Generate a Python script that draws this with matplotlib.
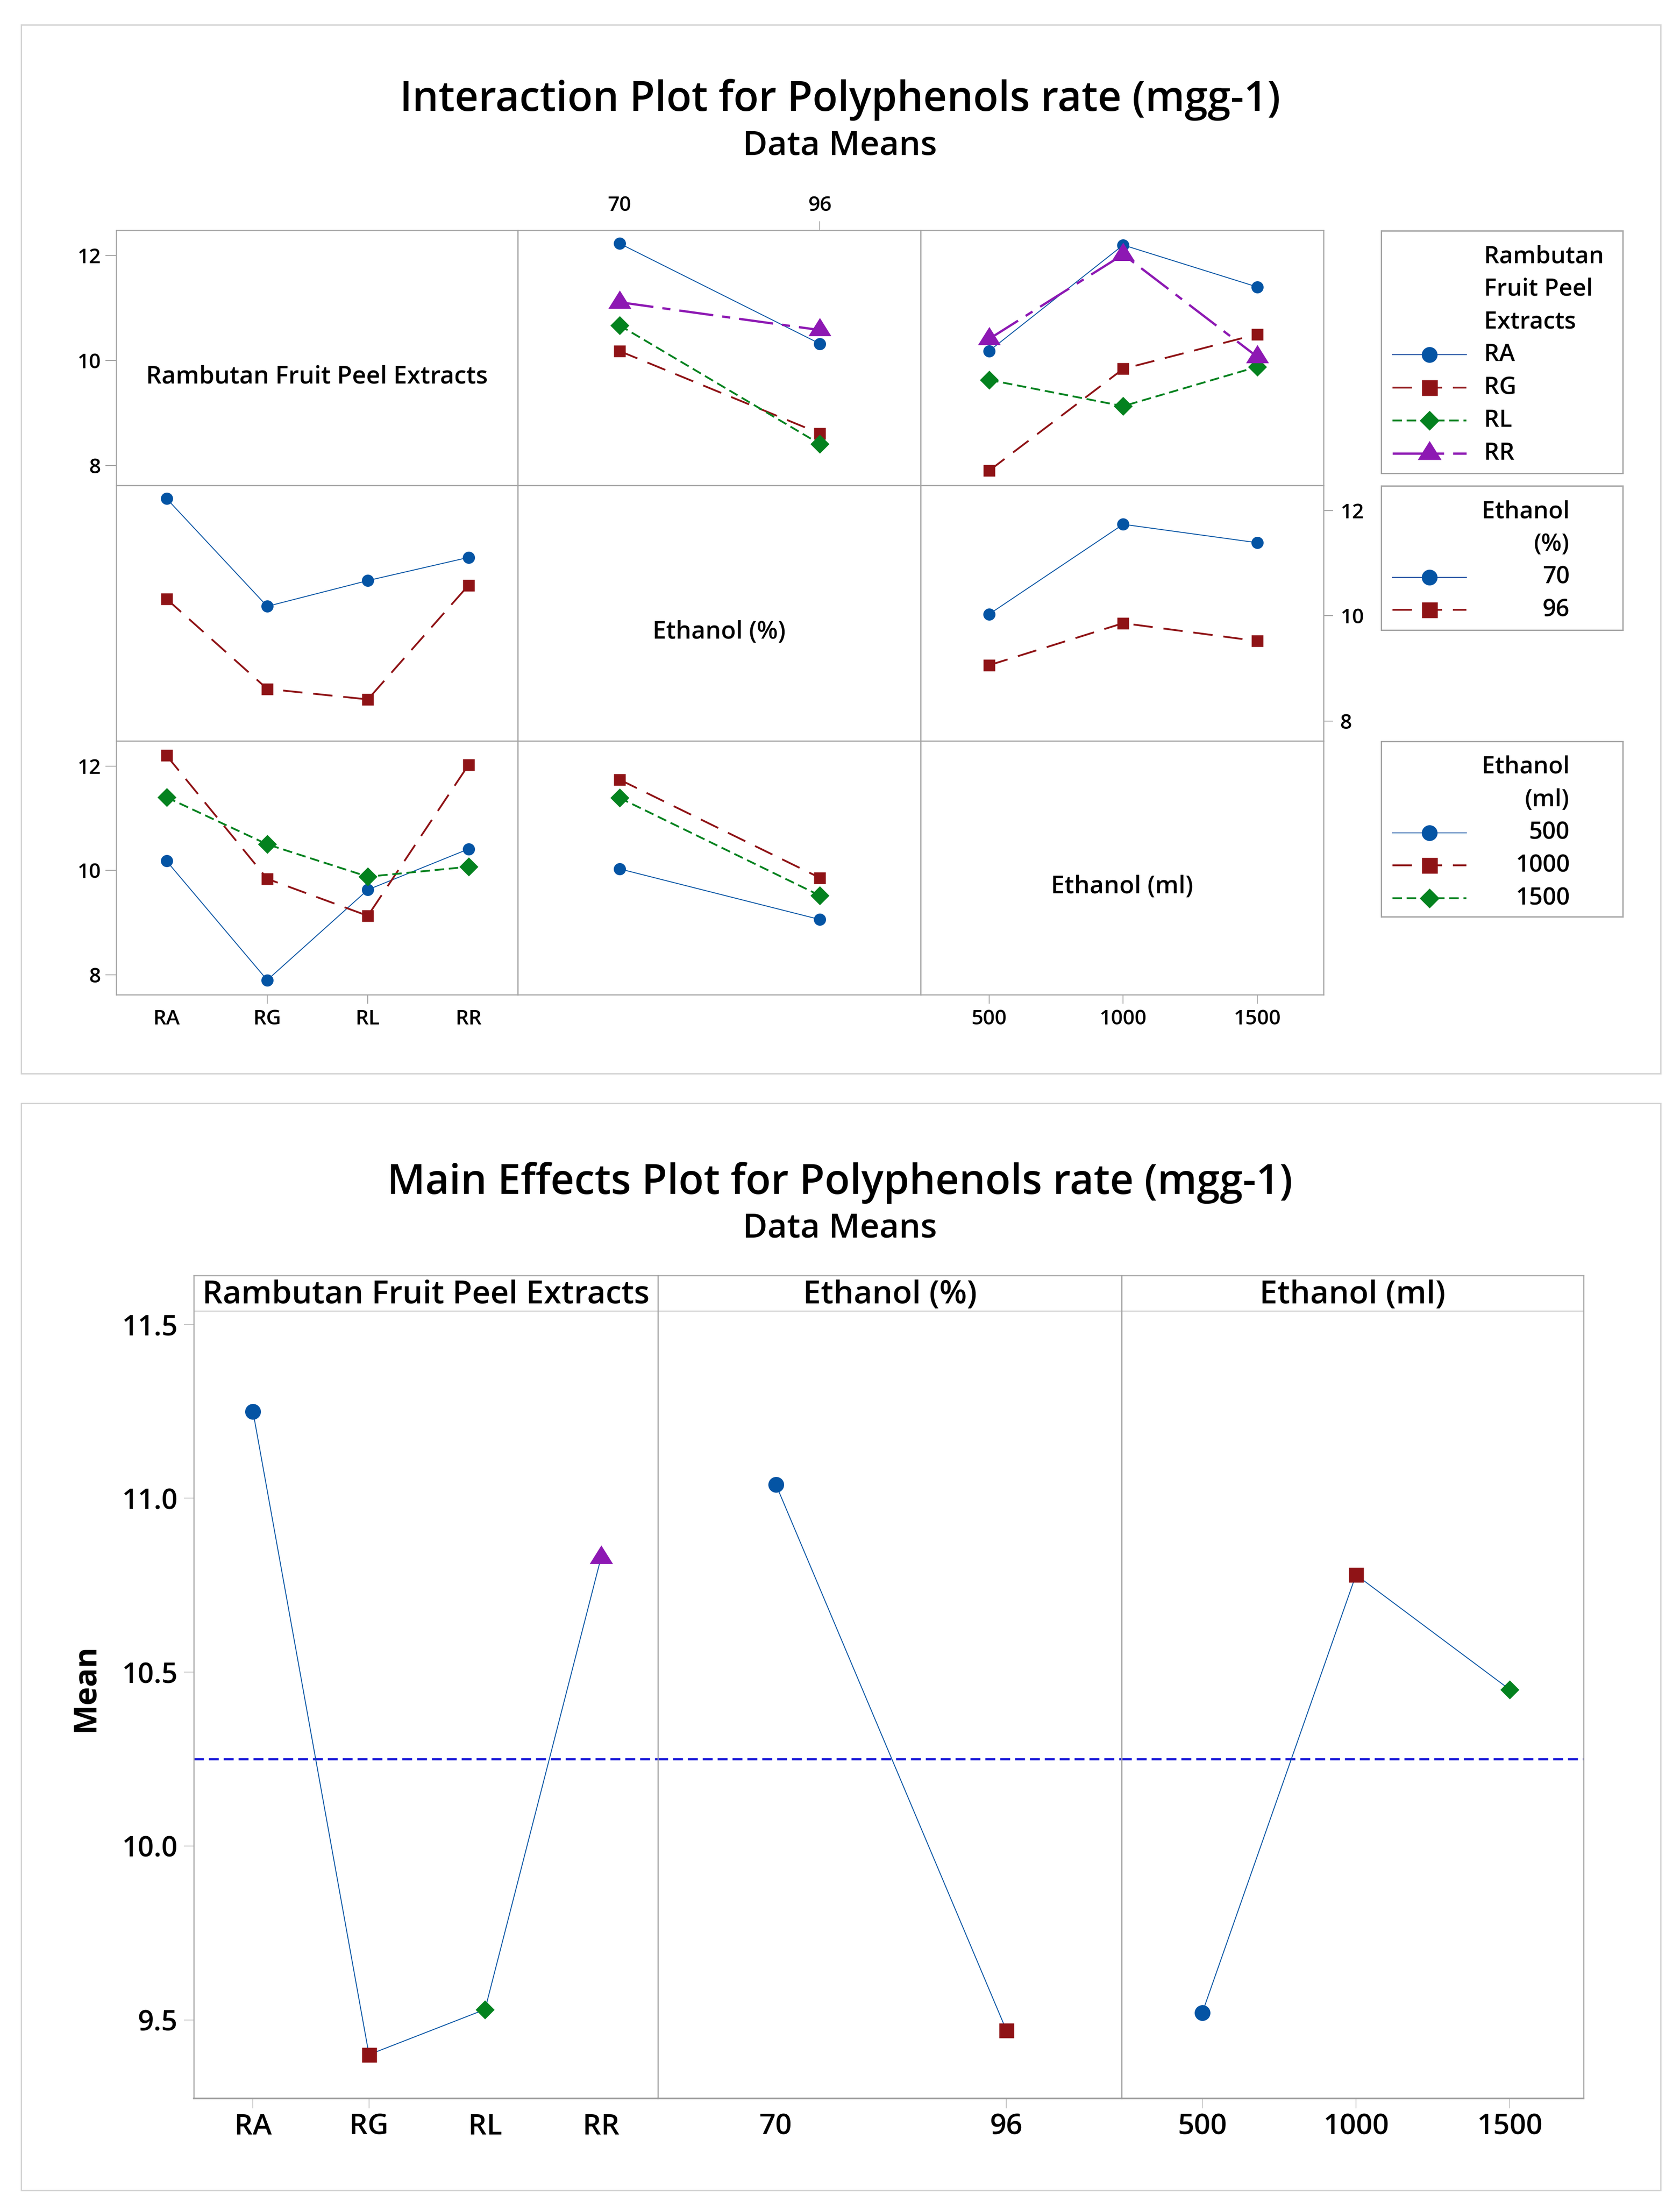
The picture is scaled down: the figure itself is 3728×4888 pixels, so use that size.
import matplotlib
matplotlib.use('Agg')
import matplotlib.pyplot as plt
from matplotlib.patches import Rectangle

plt.rcParams['font.family'] = ['Open Sans', 'DejaVu Sans']
plt.rcParams['font.weight'] = 'semibold'
plt.rcParams['lines.scale_dashes'] = False

# ---- data ----
extracts = ['RA', 'RG', 'RL', 'RR']
ethanol_pct = [70, 96]
ethanol_ml = [500, 1000, 1500]
factor_names = ['Rambutan Fruit Peel Extracts', 'Ethanol (%)', 'Ethanol (ml)']

# interaction means
pct_by_extract = [[12.23, 10.32], [10.18, 8.61], [10.67, 8.41], [11.11, 10.58]]
ml_by_extract = [[10.18, 12.20, 11.40], [7.90, 9.84, 10.50],
                 [9.63, 9.13, 9.88], [10.41, 12.02, 10.07]]
ml_by_pct = [[10.03, 11.74, 11.39], [9.06, 9.86, 9.52]]

# main effects means
main_extract = [11.25, 9.40, 9.53, 10.83]
main_pct = [11.04, 9.47]
main_ml = [9.52, 10.78, 10.45]
grand_mean = 10.25

# ---- figure geometry (pixels of the 3728x4888 picture) ----
W, H = 3728, 4888
DPI = 100


def px(v):
    return v * 72 / DPI


fig = plt.figure(figsize=(W / DPI, H / DPI), dpi=DPI)
fig.patch.set_facecolor('white')

ov = fig.add_axes([0, 0, 1, 1])
ov.set_xlim(0, W)
ov.set_ylim(H, 0)
ov.axis('off')


def add_box(l, t, r, b):
    return fig.add_axes([l / W, 1 - b / H, (r - l) / W, (b - t) / H])


def hide_ticks(axis, idx, line='tick1line'):
    ticks = axis.get_major_ticks()
    for i in idx:
        getattr(ticks[i], line).set_visible(False)


BLUE = '#0454a4'
RED = '#8f1316'
GREEN = '#04821f'
PURPLE = '#8d18b3'
MEANBLUE = '#1414d8'
GRAY = '#a5a5a5'
TRI = [(-0.94, -0.5), (0.94, -0.5), (0.0, 1.0)]

# level styles: color, linestyle, linewidth, marker, size in interaction / legend / main
styles = [
    dict(color=BLUE, ls='-', lw=px(2), marker='o', ms_i=px(27), ms_l=px(35), ms_m=px(35)),
    dict(color=RED, ls=(0, (px(43), px(24))), lw=px(4), marker='s', ms_i=px(26), ms_l=px(35), ms_m=px(33)),
    dict(color=GREEN, ls=(0, (px(21), px(10.5))), lw=px(4), marker='D', ms_i=px(30), ms_l=px(31), ms_m=px(30)),
    dict(color=PURPLE, ls=(0, (px(76), px(20), px(18), px(20))), lw=px(5), marker=TRI,
         ms_i=px(54), ms_l=px(56), ms_m=px(55)),
]

# ---- outer frames and titles ----
for (t, b) in [(55, 2382), (2448, 4860)]:
    ov.add_patch(Rectangle((47, t), 3685 - 47, b - t, fill=False, ec='#d4d4d4', lw=px(3)))

ov.text(W / 2, 246, 'Interaction Plot for Polyphenols rate (mgg-1)', fontsize=66,
        ha='center', va='baseline')
ov.text(W / 2, 343, 'Data Means', fontsize=54, ha='center', va='baseline')
ov.text(W / 2, 2649, 'Main Effects Plot for Polyphenols rate (mgg-1)', fontsize=66,
        ha='center', va='baseline')
ov.text(W / 2, 2746, 'Data Means', fontsize=54, ha='center', va='baseline')

# ---- interaction plot grid ----
cols_x = [258, 1149, 2043, 2937]
rows_y = [511, 1077, 1644, 2207]
xlims = [(0.5, 4.49), (56.8, 109.1), (245, 1747)]
ylim = (7.62, 12.48)
xpos = [list(range(1, len(extracts) + 1)), ethanol_pct, ethanol_ml]
xlabels = [extracts, [str(v) for v in ethanol_pct], [str(v) for v in ethanol_ml]]

series = {
    (0, 1): pct_by_extract,
    (0, 2): ml_by_extract,
    (1, 0): [[row[j] for row in pct_by_extract] for j in range(len(ethanol_pct))],
    (1, 2): ml_by_pct,
    (2, 0): [[row[k] for row in ml_by_extract] for k in range(len(ethanol_ml))],
    (2, 1): [[row[k] for row in ml_by_pct] for k in range(len(ethanol_ml))],
}

tick_kw = dict(width=px(2), color=GRAY, labelsize=33, labelcolor='black')
axs = {}
for r in range(3):
    for c in range(3):
        ax = add_box(cols_x[c], rows_y[r], cols_x[c + 1], rows_y[r + 1])
        ax.set_xlim(xlims[c])
        ax.set_ylim(ylim)
        ax.set_xticks([])
        ax.set_yticks([])
        for s in ax.spines.values():
            s.set_color(GRAY)
            s.set_linewidth(px(2.5))
        axs[(r, c)] = ax
        if r == c:
            ax.text(0.5, 0.40, factor_names[r], transform=ax.transAxes, fontsize=39,
                    ha='center', va='baseline')
            continue
        for i, ys in enumerate(series[(r, c)]):
            st = styles[i]
            ax.plot(xpos[c], ys, color=st['color'], ls=st['ls'], lw=st['lw'],
                    marker=st['marker'], ms=st['ms_i'], mec='none', mfc=st['color'])

# ticks
ax = axs[(0, 0)]
ax.set_yticks([8, 10, 12])
ax.tick_params(axis='y', length=px(24), pad=px(10), **tick_kw)
ax = axs[(2, 0)]
ax.set_yticks([8, 10, 12])
ax.tick_params(axis='y', length=px(24), pad=px(10), **tick_kw)
ax.set_xticks(xpos[0], xlabels[0])
ax.tick_params(axis='x', length=px(20), pad=px(12), **tick_kw)
hide_ticks(ax.xaxis, [0, 3])
ax = axs[(0, 1)]
ax.xaxis.set_ticks_position('top')
ax.set_xticks(xpos[1], xlabels[1])
ax.tick_params(axis='x', length=px(20), pad=px(12), **tick_kw)
hide_ticks(ax.xaxis, [0], 'tick2line')
ax = axs[(1, 2)]
ax.yaxis.set_ticks_position('right')
ax.set_yticks([8, 10, 12])
ax.tick_params(axis='y', length=px(21), pad=px(16), **tick_kw)
ax = axs[(2, 2)]
ax.set_xticks(xpos[2], xlabels[2])
ax.tick_params(axis='x', length=px(20), pad=px(12), **tick_kw)

# ---- legends ----
LEFT, RIGHT = 3065, 3601
TEXT_L, TEXT_R = 3293, 3483
STEP = 72.8


def draw_legend(top, bottom, title_lines, labels, right_align):
    ov.add_patch(Rectangle((LEFT, top), RIGHT - LEFT, bottom - top, fill=False,
                           ec=GRAY, lw=px(3)))
    rows = title_lines + labels
    for n, txt in enumerate(rows):
        base = top + 71 + n * STEP
        if right_align:
            ov.text(TEXT_R, base, txt, fontsize=38, ha='right', va='baseline')
        else:
            ov.text(TEXT_L, base, txt, fontsize=38, ha='left', va='baseline')
    for k in range(len(labels)):
        yy = top + 71 + (len(title_lines) + k) * STEP - 14
        st = styles[k]
        ov.plot([3090, 3254], [yy, yy], color=st['color'], ls=st['ls'], lw=st['lw'])
        ov.plot([3172], [yy], ls='none', marker=st['marker'], ms=st['ms_l'],
                mec='none', mfc=st['color'])


draw_legend(512, 1050, ['Rambutan', 'Fruit Peel', 'Extracts'], extracts, False)
draw_legend(1078, 1398, ['Ethanol', '(%)'], [str(v) for v in ethanol_pct], True)
draw_legend(1645, 2034, ['Ethanol', '(ml)'], [str(v) for v in ethanol_ml], True)

# ---- main effects plot ----
me_x = [430, 1460, 2489, 3514]
me_top, me_bottom = 2830, 4656
me_xlims = [(0.49, 4.49), (56.7, 109.0), (238, 1740)]
me_ylim = (9.274, 11.641)
strip_y = 11.539
main_vals = [main_extract, main_pct, main_ml]
me_hidden = [[2, 3], [0], []]

for p in range(3):
    ax = add_box(me_x[p], me_top, me_x[p + 1], me_bottom)
    ax.set_xlim(me_xlims[p])
    ax.set_ylim(me_ylim)
    for s in ax.spines.values():
        s.set_color(GRAY)
        s.set_linewidth(px(2.5))
    ax.spines['bottom'].set_linewidth(px(3.5))
    ax.spines['bottom'].set_color('#9a9a9a')
    ax.axhline(grand_mean, color=MEANBLUE, lw=px(4.7), ls=(0, (px(22), px(11))), zorder=1)
    ax.axhline(strip_y, color='#b4b4b4', lw=px(2), zorder=1)
    ax.plot(xpos[p], main_vals[p], color=BLUE, lw=px(2), zorder=2)
    for i, (xv, yv) in enumerate(zip(xpos[p], main_vals[p])):
        st = styles[i]
        ax.plot([xv], [yv], ls='none', marker=st['marker'], ms=st['ms_m'],
                mec='none', mfc=st['color'], zorder=3)
    ax.text(0.5, 0.9663, factor_names[p], transform=ax.transAxes, fontsize=51,
            ha='center', va='baseline')
    ax.set_xticks(xpos[p], xlabels[p])
    ax.tick_params(axis='x', length=px(22), pad=px(10), width=px(1.5), color='#b4b4b4',
                   labelsize=46)
    hide_ticks(ax.xaxis, me_hidden[p])
    if p == 0:
        ax.set_yticks([9.5, 10.0, 10.5, 11.0, 11.5], ['9.5', '10.0', '10.5', '11.0', '11.5'])
        ax.tick_params(axis='y', length=px(22), pad=px(14), width=px(1.5), color='#b4b4b4',
                       labelsize=45)
    else:
        ax.set_yticks([])

ov.text(190, 3745, 'Mean', rotation=90, fontsize=50, fontweight='bold',
        ha='center', va='center')

fig.savefig('out.png', dpi=DPI)
